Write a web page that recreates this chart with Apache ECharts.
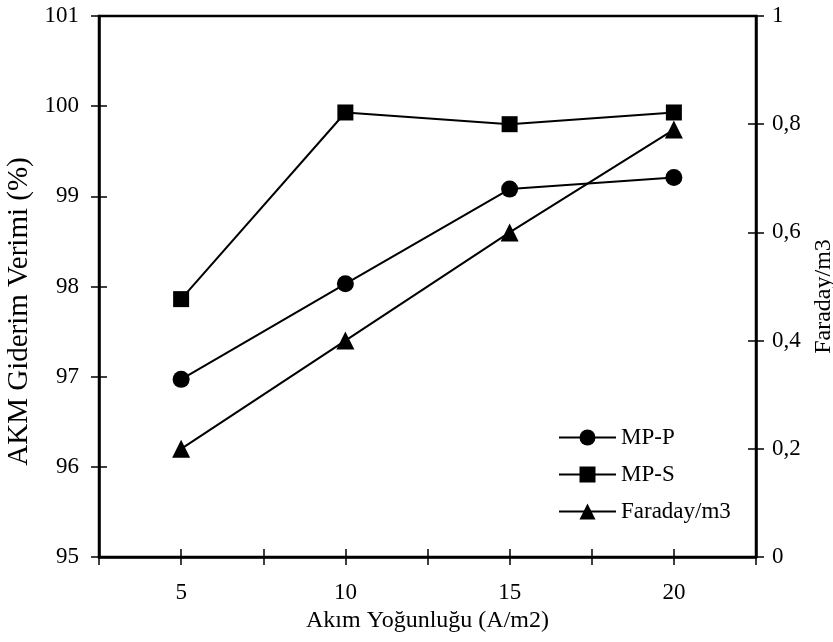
<!DOCTYPE html>
<html>
<head>
<meta charset="utf-8">
<script src="https://cdn.jsdelivr.net/npm/echarts@6/dist/echarts.min.js"></script>
<style>
  html, body { margin: 0; padding: 0; background: #fff; }
  #chart { width: 833px; height: 642px; }
</style>
</head>
<body>
<div id="chart"></div>
<script>
// akim yogunlugu (A/m2)
var akim = [5, 10, 15, 20];
// giderim verimi (%)
var mpP = [96.97, 98.03, 99.08, 99.21];
var mpS = [97.86, 99.93, 99.80, 99.93];
// faraday/m3 (sag eksen)
var faraday = [0.2, 0.4, 0.6, 0.79];

var font = 'Liberation Serif';

function pairs(vals) {
    return akim.map(function (x, i) { return [x, vals[i]]; });
}

var chart = echarts.init(document.getElementById('chart'));

var tickOut = { show: true, length: 8, lineStyle: { color: '#000', width: 1.5 } };
var tickIn = { show: true, inside: true, length: 8, lineStyle: { color: '#000', width: 1.5 } };
var lineAx = { show: true, lineStyle: { color: '#000', width: 2.5 } };

var option = {
    animation: false,
    backgroundColor: '#fff',
    grid: {
        left: 99, right: 77, top: 16, bottom: 85,
        outerBoundsMode: 'none', containLabel: false,
        show: true, borderColor: '#000', borderWidth: 2.5
    },
    legend: {
        orient: 'vertical',
        left: 558, top: 426, padding: 0,
        itemWidth: 57, itemHeight: 20, itemGap: 14,
        textStyle: { fontFamily: font, fontSize: 23, color: '#000' },
        data: ['MP-P', 'MP-S', 'Faraday/m3']
    },
    xAxis: [{
        type: 'value', min: 2.5, max: 22.5, interval: 2.5,
        position: 'bottom',
        name: 'Akım Yoğunluğu (A/m2)',
        nameLocation: 'middle', nameGap: 48,
        nameTextStyle: { fontFamily: font, fontSize: 24, color: '#000' },
        axisLine: lineAx, axisTick: tickOut, splitLine: { show: false },
        axisLabel: {
            margin: 24, fontFamily: font, fontSize: 23, color: '#000',
            formatter: function (v) { return v % 5 === 0 ? String(v) : ''; }
        }
    }, {
        type: 'value', min: 2.5, max: 22.5, interval: 2.5,
        position: 'bottom',
        axisLine: { show: false }, axisTick: tickIn, axisLabel: { show: false }, splitLine: { show: false }
    }],
    yAxis: [{
        type: 'value', min: 95, max: 101, interval: 1,
        position: 'left',
        name: 'AKM Giderim Verimi (%)',
        nameLocation: 'middle', nameGap: 61, nameRotate: 90,
        nameTextStyle: { fontFamily: font, fontSize: 29, color: '#000', padding: [0, 50, 0, 0] },
        axisLine: lineAx, axisTick: tickOut, splitLine: { show: false },
        axisLabel: { margin: 20, fontFamily: font, fontSize: 23, color: '#000' }
    }, {
        type: 'value', min: 0, max: 1, interval: 0.2,
        position: 'right',
        name: 'Faraday/m3',
        nameLocation: 'middle', nameGap: 52, nameRotate: 90,
        nameTextStyle: { fontFamily: font, fontSize: 24, color: '#000', padding: [0, 20, 0, 0] },
        axisLine: lineAx, axisTick: tickOut, splitLine: { show: false },
        axisLabel: {
            margin: 16, fontFamily: font, fontSize: 23, color: '#000',
            formatter: function (v) { return String(+v.toFixed(1)).replace('.', ','); }
        }
    }, {
        type: 'value', min: 95, max: 101, interval: 1, position: 'left',
        axisLine: { show: false }, axisTick: tickIn, axisLabel: { show: false }, splitLine: { show: false }
    }, {
        type: 'value', min: 0, max: 1, interval: 0.2, position: 'right',
        axisLine: { show: false }, axisTick: tickIn, axisLabel: { show: false }, splitLine: { show: false }
    }],
    series: [{
        name: 'MP-P', type: 'line', data: pairs(mpP),
        symbol: 'circle', symbolSize: 17,
        itemStyle: { color: '#000' }, lineStyle: { color: '#000', width: 2 }
    }, {
        name: 'MP-S', type: 'line', data: pairs(mpS),
        symbol: 'rect', symbolSize: 16,
        itemStyle: { color: '#000' }, lineStyle: { color: '#000', width: 2 }
    }, {
        name: 'Faraday/m3', type: 'line', data: pairs(faraday), yAxisIndex: 1,
        symbol: 'triangle', symbolSize: 18,
        itemStyle: { color: '#000' }, lineStyle: { color: '#000', width: 2 }
    }]
};

chart.setOption(option);
</script>
</body>
</html>
